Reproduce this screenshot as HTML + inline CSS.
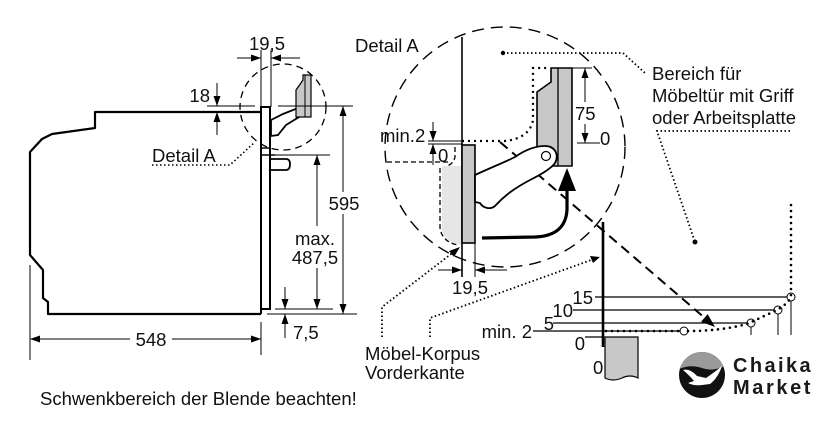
<!DOCTYPE html>
<html><head><meta charset="utf-8"><style>
html,body{margin:0;padding:0;background:#fff;}
svg{display:block;}
text{font-family:"Liberation Sans",Arial,sans-serif;font-size:18.5px;fill:#111;}
</style></head><body>
<svg width="840" height="440" viewBox="0 0 840 440" xmlns="http://www.w3.org/2000/svg">
<defs>
<marker id="a" viewBox="0 0 10 7" refX="10" refY="3.5" markerWidth="10" markerHeight="7" markerUnits="userSpaceOnUse" orient="auto-start-reverse"><path d="M0,0 L10,3.5 L0,7 z" fill="#000"/></marker>
<clipPath id="lc"><circle cx="702" cy="375" r="23"/></clipPath>
</defs>
<rect width="840" height="440" fill="#fff"/>

<!-- ===== LEFT: oven side view ===== -->
<path d="M261,112 L95,112 L95,128 L52,134 L42,139 L30,152 L30,255 L43,270 L43,298 L48,302 L48,314 L261,314" fill="none" stroke="#000" stroke-width="2.2" stroke-linejoin="round"/>
<path d="M261,314 L261,107 L270,107 L270,309 L261,309" fill="none" stroke="#000" stroke-width="2"/>
<path d="M261,148 L270,148 M261,155 L275,155" stroke="#000" stroke-width="1.5"/>
<path d="M271,159 L286,159 Q290,159 290,164 Q290,170 286,170 L271,170" fill="#fff" stroke="#000" stroke-width="1.8"/>
<!-- small hinge -->
<path d="M271,120 L283,114 L298,108 Q304,108 304,114 L286,125 L278,135 L271,136 Z" fill="#fff" stroke="#000" stroke-width="1.8"/>
<circle cx="301" cy="112" r="2.5" fill="#fff" stroke="#000" stroke-width="1"/>
<path d="M303,75 L311,75 L311,117 L296,117 L296,90 L303,80 Z" fill="#c8c8c8" stroke="#000" stroke-width="1.2"/>
<line x1="305" y1="75" x2="305" y2="117" stroke="#000" stroke-width="1"/>
<!-- small dashed circle -->
<circle cx="283" cy="107" r="43" fill="none" stroke="#000" stroke-width="1.3" stroke-dasharray="7,5"/>

<!-- 19,5 top -->
<line x1="261" y1="50" x2="261" y2="107" stroke="#000" stroke-width="1"/>
<line x1="271" y1="50" x2="271" y2="107" stroke="#000" stroke-width="1"/>
<line x1="237" y1="58" x2="261" y2="58" stroke="#000" stroke-width="1" marker-end="url(#a)"/>
<line x1="300" y1="58" x2="271" y2="58" stroke="#000" stroke-width="1" marker-end="url(#a)"/>
<text x="267" y="50" text-anchor="middle">19,5</text>

<!-- 18 -->
<line x1="207" y1="106" x2="255" y2="106" stroke="#000" stroke-width="1"/>
<line x1="217" y1="83" x2="217" y2="106" stroke="#000" stroke-width="1" marker-end="url(#a)"/>
<line x1="217" y1="135" x2="217" y2="112" stroke="#000" stroke-width="1" marker-end="url(#a)"/>
<text x="210" y="102" text-anchor="end">18</text>

<!-- 595 -->
<line x1="278" y1="106" x2="353" y2="106" stroke="#000" stroke-width="1"/>
<line x1="267" y1="314" x2="357" y2="314" stroke="#000" stroke-width="1"/>
<line x1="343" y1="106" x2="343" y2="314" stroke="#000" stroke-width="1" marker-start="url(#a)" marker-end="url(#a)"/>
<rect x="328" y="192" width="32" height="22" fill="#fff"/>
<text x="344" y="210" text-anchor="middle">595</text>

<!-- max 487,5 -->
<line x1="275" y1="155" x2="330" y2="155" stroke="#000" stroke-width="1"/>
<line x1="275" y1="309" x2="333" y2="309" stroke="#000" stroke-width="1"/>
<line x1="317" y1="155" x2="317" y2="309" stroke="#000" stroke-width="1" marker-start="url(#a)" marker-end="url(#a)"/>
<rect x="293" y="226" width="45" height="42" fill="#fff"/>
<text x="315" y="245" text-anchor="middle">max.</text>
<text x="315" y="264" text-anchor="middle">487,5</text>

<!-- 7,5 -->
<line x1="285" y1="287" x2="285" y2="309" stroke="#000" stroke-width="1" marker-end="url(#a)"/>
<line x1="285" y1="338" x2="285" y2="314" stroke="#000" stroke-width="1" marker-end="url(#a)"/>
<text x="293" y="339">7,5</text>

<!-- 548 -->
<line x1="30" y1="265" x2="30" y2="360" stroke="#000" stroke-width="1"/>
<line x1="261" y1="322" x2="261" y2="355" stroke="#000" stroke-width="1"/>
<line x1="30" y1="339" x2="261" y2="339" stroke="#000" stroke-width="1" marker-start="url(#a)" marker-end="url(#a)"/>
<rect x="130" y="328" width="42" height="22" fill="#fff"/>
<text x="151" y="346" text-anchor="middle">548</text>

<!-- Detail A label left -->
<text x="152" y="162">Detail A</text>
<path d="M152,165 L230,165 L255,142" fill="none" stroke="#000" stroke-width="1.6" stroke-dasharray="1.5,2.5"/>

<text x="40" y="405">Schwenkbereich der Blende beachten!</text>

<!-- ===== DETAIL A ===== -->
<text x="355" y="52">Detail A</text>
<circle cx="505" cy="147" r="120" fill="none" stroke="#000" stroke-width="1.4" stroke-dasharray="12,7"/>

<!-- ghost panel -->
<path d="M442,166 L455,166 L462,166 L462,245 Q445,243 442,230 Z" fill="#e6e6e6"/>
<path d="M387,162 L450,162 M455,147 L455,157 Q453,165 446,166 M440,168 L440,228 Q442,242 458,245" fill="none" stroke="#000" stroke-width="1.3" stroke-dasharray="5,3"/>

<!-- wall -->
<line x1="462" y1="37" x2="462" y2="277" stroke="#000" stroke-width="1.6"/>
<line x1="475" y1="243" x2="475" y2="277" stroke="#000" stroke-width="1"/>
<rect x="462" y="145" width="13" height="98" fill="#c8c8c8" stroke="#000" stroke-width="1.6"/>

<!-- min.2 -->
<line x1="428" y1="141" x2="462" y2="141" stroke="#000" stroke-width="1"/>
<line x1="428" y1="144" x2="462" y2="144" stroke="#000" stroke-width="1"/>
<line x1="433" y1="122" x2="433" y2="141" stroke="#000" stroke-width="1" marker-end="url(#a)"/>
<line x1="433" y1="165" x2="433" y2="144" stroke="#000" stroke-width="1" marker-end="url(#a)"/>
<text x="380" y="142">min.2</text>
<text x="438" y="162">0</text>

<!-- dotted door outline -->
<path d="M462,141 L505,141 Q530,138 533,120 L533,68 L550,68" fill="none" stroke="#000" stroke-width="2.2" stroke-dasharray="2,4"/>

<!-- upper door -->
<path d="M551,68 L572,68 L572,166 L537,166 L537,92 L551,82 Z" fill="#c8c8c8" stroke="#000" stroke-width="1.6"/>
<line x1="558" y1="68" x2="558" y2="166" stroke="#000" stroke-width="1.3"/>

<!-- 75 -->
<line x1="572" y1="68" x2="592" y2="68" stroke="#000" stroke-width="1"/>
<line x1="577" y1="143" x2="600" y2="143" stroke="#000" stroke-width="1"/>
<line x1="585" y1="68" x2="585" y2="143" stroke="#000" stroke-width="1" marker-start="url(#a)" marker-end="url(#a)"/>
<rect x="574" y="102" width="24" height="22" fill="#fff"/>
<text x="575" y="120">75</text>
<text x="600" y="145">0</text>

<!-- dashed diagonal -->
<line x1="500" y1="142" x2="706" y2="319" stroke="#000" stroke-width="2" stroke-dasharray="10,6"/>
<polygon points="715,327 701.1,321.7 707.7,314.1" fill="#000"/>

<!-- big hinge arm -->
<path d="M475,175 C490,168 505,162 515,157 C525,150 535,146 545,146 C556,146 559,156 555,163 C551,169 540,175 530,180 C515,188 505,195 495,206 C490,210 483,208 480,203 L475,202 Z" fill="#fff" stroke="#000" stroke-width="1.8"/>
<circle cx="546" cy="156" r="4.5" fill="#fff" stroke="#000" stroke-width="1.2"/>

<!-- curved thick arrow -->
<path d="M482,238 L535,237 C558,236 566,225 567,210 L567,188" fill="none" stroke="#000" stroke-width="3.2"/>
<polygon points="567,168 558,191 576,191" fill="#000"/>

<!-- 19,5 bottom -->
<line x1="438" y1="270" x2="462" y2="270" stroke="#000" stroke-width="1" marker-end="url(#a)"/>
<line x1="507" y1="270" x2="475" y2="270" stroke="#000" stroke-width="1" marker-end="url(#a)"/>
<text x="470" y="294" text-anchor="middle">19,5</text>

<!-- top dotted leader -->
<circle cx="503" cy="53" r="2.2" fill="#000"/>
<path d="M503,53 L623,53 L645,73" fill="none" stroke="#000" stroke-width="1.8" stroke-dasharray="1.5,2.5"/>
<text x="652" y="80">Bereich für</text>
<text x="652" y="102">Möbeltür mit Griff</text>
<text x="652" y="124">oder Arbeitsplatte</text>
<path d="M790,131 L657,131 L695,242" fill="none" stroke="#000" stroke-width="1.8" stroke-dasharray="1.5,2.5"/>
<circle cx="695" cy="242" r="2.5" fill="#000"/>

<!-- Möbel-Korpus leaders -->
<path d="M382,337 L382,307 L455,251" fill="none" stroke="#000" stroke-width="1.8" stroke-dasharray="1.5,2.5"/>
<polygon points="460,247 449,251 454,257" fill="#000"/>
<path d="M430,337 L430,318 L594,259" fill="none" stroke="#000" stroke-width="1.8" stroke-dasharray="1.5,2.5"/>
<polygon points="600,257 590,256 593,263" fill="#000"/>
<text x="365" y="360">Möbel-Korpus</text>
<text x="365" y="379">Vorderkante</text>

<!-- right levels -->
<line x1="595" y1="297" x2="787" y2="297" stroke="#000" stroke-width="1.2"/>
<line x1="573" y1="310" x2="774" y2="310" stroke="#000" stroke-width="1.2"/>
<line x1="553" y1="323" x2="747" y2="323" stroke="#000" stroke-width="1.2"/>
<line x1="533" y1="331" x2="680" y2="331" stroke="#000" stroke-width="1.2"/>
<line x1="585" y1="337" x2="603" y2="337" stroke="#000" stroke-width="1.2"/>
<text x="593" y="304" text-anchor="end">15</text>
<text x="573" y="317" text-anchor="end">10</text>
<text x="554" y="330" text-anchor="end">5</text>
<text x="532" y="338" text-anchor="end">min. 2</text>
<text x="585" y="350" text-anchor="end">0</text>
<line x1="603" y1="222" x2="603" y2="347" stroke="#000" stroke-width="2.6"/>
<path d="M605,337 L638,337 L638,378 Q630,374 622,378 Q613,382 605,378 Z" fill="#c8c8c8" stroke="#000" stroke-width="1.2"/>
<text x="593" y="374">0</text>

<!-- circles & verticals -->
<g fill="#fff" stroke="#000" stroke-width="1">
<circle cx="684" cy="331" r="4"/>
<circle cx="751" cy="323" r="4"/>
<circle cx="778" cy="310" r="4"/>
<circle cx="791" cy="297" r="4"/>
</g>
<path d="M751,327 L751,335 M778,314 L778,335 M791,301 L791,335" stroke="#000" stroke-width="1"/>
<path d="M606,331 L680,331 M688,331 Q720,331 747,324 L775,311 Q788,304 791,297 L791,200" fill="none" stroke="#000" stroke-width="2.6" stroke-linecap="round" stroke-dasharray="0,6"/>

<!-- logo -->
<g clip-path="url(#lc)">
<rect x="679" y="352" width="46" height="46" fill="#111"/>
<path d="M679,352 L725,352 L725,366 Q712,372 702,368 Q690,364 679,369 Z" fill="#9a9a9a"/>
<path d="M683,370 Q690,368 697,376 L706,378 Q715,372 722,366 Q718,378 710,384 L702,385 Q694,386 688,383 L694,381 Q690,376 683,370 Z" fill="#fff"/>
</g>
<text x="733" y="372" style="font-size:20px;font-weight:bold;letter-spacing:2.4px;fill:#1a1a1a">Chaika</text>
<text x="733" y="394" style="font-size:20px;font-weight:bold;letter-spacing:2.6px;fill:#1a1a1a">Market</text>
</svg>
</body></html>
